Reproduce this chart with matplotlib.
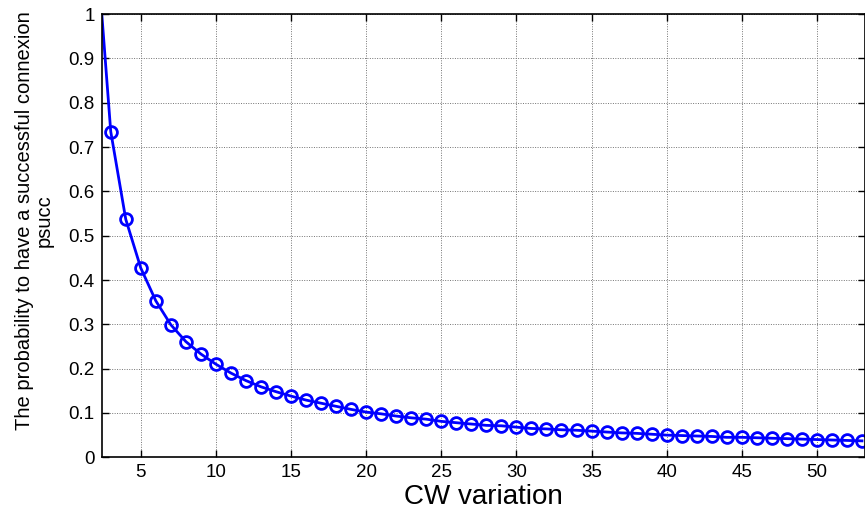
import matplotlib
matplotlib.use("Agg")
import matplotlib.pyplot as plt
import numpy as np

# CW values and success probability
cw = list(range(2, 54))
psucc = [1.18, 0.735, 0.537, 0.427, 0.353, 0.299, 0.261, 0.233, 0.210, 0.190,
         0.173, 0.159, 0.148, 0.138, 0.129, 0.122, 0.115, 0.108, 0.102, 0.098,
         0.093, 0.089, 0.086, 0.081, 0.078, 0.075, 0.072, 0.071, 0.068, 0.065,
         0.064, 0.062, 0.061, 0.059, 0.057, 0.055, 0.054, 0.052, 0.050, 0.049,
         0.048, 0.047, 0.045, 0.045, 0.044, 0.043, 0.042, 0.041, 0.040, 0.039,
         0.038, 0.037]

xticks = [5, 10, 15, 20, 25, 30, 35, 40, 45, 50]
yticks = [0, 0.1, 0.2, 0.3, 0.4, 0.5, 0.6, 0.7, 0.8, 0.9, 1]
ytick_labels = ["0", "0.1", "0.2", "0.3", "0.4", "0.5", "0.6", "0.7", "0.8", "0.9", "1"]

plt.rcParams["font.family"] = ["Liberation Sans", "DejaVu Sans"]

fig = plt.figure(figsize=(8.65, 5.22), dpi=100)
ax = fig.add_axes([0.1176, 0.124, 0.8824, 0.849])

ax.plot(cw, psucc, color="#0000ff", linewidth=2, marker="o", markersize=8.5,
        markerfacecolor="none", markeredgewidth=2)

ax.set_xlim(2.4, 53.2)
ax.set_ylim(0, 1)
ax.set_xticks(xticks)
ax.set_yticks(yticks)
ax.set_yticklabels(ytick_labels)
ax.tick_params(direction="in", top=True, right=True, labelsize=13.5, length=5,
               width=1, pad=5)
ax.grid(True, color="0.45", linestyle=(0, (1, 1.5)), linewidth=0.7)
for s in ax.spines.values():
    s.set_linewidth(1.2)

ax.set_xlabel("CW variation", fontsize=20, labelpad=2)
ax.set_ylabel("The probability to have a successful connexion\npsucc",
              fontsize=14.5, linespacing=1.0, labelpad=11)
ax.yaxis.label.set_y(0.535)

fig.savefig("out.png", dpi=100)
